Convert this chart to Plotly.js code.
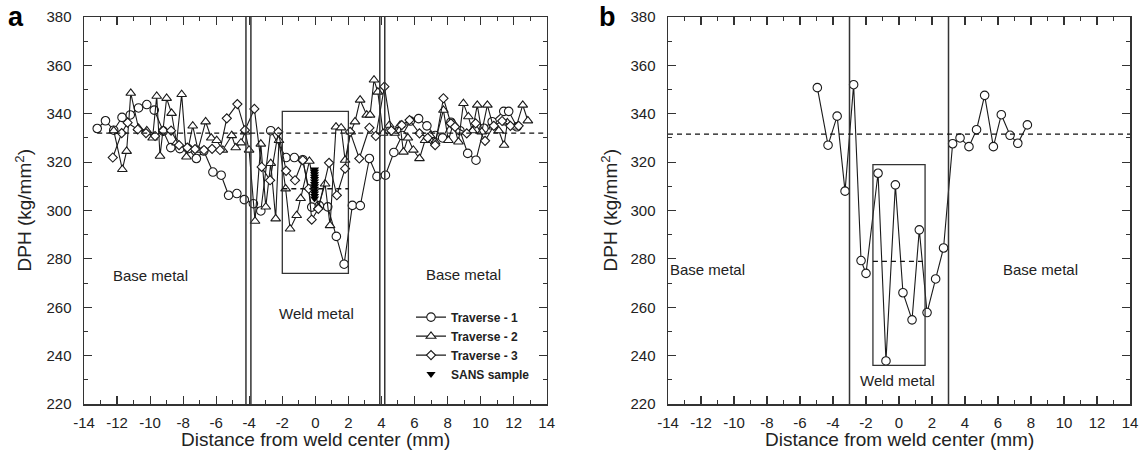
<!DOCTYPE html>
<html>
<head>
<meta charset="utf-8">
<script src="https://cdn.plot.ly/plotly-3.0.1.min.js"></script>
<style>html,body{margin:0;padding:0;background:#fff}#chart{width:1143px;height:461px}</style>
</head>
<body>
<div id="chart"></div>
<script>
// ---------- Panel a data ----------
const trav1X = [-13.2,-12.7,-12.2,-11.7,-11.2,-10.7,-10.2,-9.75,-9.2,-8.75,-8.2,-7.7,-7.2,-6.75,-6.2,-5.7,-5.25,-4.75,-4.3,-3.75,-3.3,-2.7,-1.77,-1.27,-0.76,-0.22,0.24,0.75,1.27,1.74,2.24,2.72,3.27,3.73,4.24,4.75,5.25,5.75,6.25,6.75,7.25,7.7,8.2,8.75,9.22,9.72,10.2,10.7,11.4,11.7,12.2];
const trav1Y = [333.9,337.1,333.2,338.5,339.5,342.4,343.8,341.5,332.8,326,325.6,325.6,321.5,324.6,315.9,314.6,306.3,307,304.5,302.8,299.8,333,321.9,321.9,321,301.4,302,301.5,289.3,277.8,302.1,302,321.5,314.1,314.6,324,331,337,338,335,331,330,336.5,333,323.6,320.8,334,336.7,341,341,334.6];

const trav2X = [-12.2,-11.68,-11.42,-11.17,-10.7,-10.2,-9.85,-9.6,-9.4,-9.0,-8.7,-8.4,-8.09,-7.8,-7.42,-7.1,-6.64,-6.3,-5.97,-5.6,-5.06,-4.82,-4.5,-4.25,-4.01,-3.65,-3.3,-3.0,-2.7,-2.4,-2.2,-1.8,-1.53,-1.13,-0.89,-0.36,0.18,0.59,0.89,1.25,1.56,1.8,2.14,2.4,2.71,3.11,3.31,3.55,3.78,4.1,4.48,4.8,5.13,5.33,5.6,5.93,6.3,6.64,6.95,7.25,7.75,8.05,8.35,8.66,8.96,9.26,9.5,9.8,10.07,10.41,10.77,11.1,11.42,11.62,12.15,12.55,12.86];
const trav2Y = [333,317,324.5,348.5,334,333,330,347.3,322.5,346.4,340.2,328,348,322.2,335,325,336.7,330,329,325,331,326,328,332.5,325,295.6,327.5,301.5,319.5,296.6,329,309,292.4,298,305,320.4,301.4,311,293.8,334.6,334.2,320.8,332.5,336.7,345.7,339.5,339.5,354,349,332,335.3,332,335.3,324.2,330,325,321.5,329,331,328.4,341.5,329,336,328.4,344.3,338.8,333,343.6,332.5,343.6,334.6,333,327,336.3,334.6,343.6,337.1];

const trav3X = [-12.26,-11.72,-11.36,-10.75,-10.25,-9.7,-9.2,-8.73,-8.25,-7.75,-7.28,-6.74,-6.25,-5.77,-5.36,-4.72,-4.26,-3.69,-3.25,-2.74,-2.24,-1.77,-1.23,-0.76,-0.4,-0.22,0.18,0.83,1.3,1.8,2.1,2.66,3.27,3.66,4.18,4.6,5.23,5.7,6.3,6.8,7.25,7.75,8.2,8.45,9.16,9.7,10.27,10.8,11.3,11.8,12.3];
const trav3Y = [321.9,332,336.3,333.5,332,330.8,333,333,327,326,325.4,325,325.5,325,338.1,344,333.2,342,318,312.5,332.5,316.4,312.5,320.8,309,296.2,300.7,319.7,306.3,317.3,332.5,321.5,334.2,330.8,351.2,333,335.3,337.4,331.9,330,327,346.4,336,334.6,331.9,336,328.8,335,337,335,335];

const sansX = [-0.05,-0.05,-0.05,-0.05,-0.05,-0.05,-0.05,-0.05,-0.05,-0.05,-0.05,-0.05,-0.05];
const sansY = [317,316,315,314,313,312,311,310,309,308,307,306,305];

// ---------- Panel b data ----------
const bX = [-4.95,-4.3,-3.75,-3.27,-2.75,-2.3,-2.0,-1.27,-0.79,-0.22,0.24,0.79,1.23,1.7,2.22,2.7,3.25,3.7,4.24,4.7,5.19,5.72,6.2,6.73,7.2,7.78];
const bY = [350.8,327,339,308,352,279.3,274,315.4,237.8,310.6,266,254.8,292,257.8,271.7,284.5,327.6,330,326.4,333.4,347.6,326.4,339.6,331.1,327.8,335.4];

// ---------- Reference lines / regions ----------
const boundA = [-4.2,-3.9,3.9,4.2];
const boxA = {x0:-2, x1:2, y0:274, y1:341};
const refA = 332, refBoxA = 309, refAStart = -13.2;
const boundB = [-3,3];
const boxB = {x0:-1.58, x1:1.58, y0:236, y1:319};
const refB = 331.6, refBoxB = 279;

// ---------- Ticks ----------
const xTickVals = [-14,-12,-10,-8,-6,-4,-2,0,2,4,6,8,10,12,14];
const xTickText = ['-14','-12','-10','-8','-6','-4','-2','0','2','4','6','8','10','12','14'];
const yTickVals = [220,240,260,280,300,320,340,360,380];

const FONT = 'Liberation Sans, Arial, sans-serif';
const INK = '#1a1a1a';

function series(x, y, name, symbol, size, xa, ya, show) {
  return {x, y, name, type:'scatter', mode:'lines+markers', xaxis:xa, yaxis:ya, showlegend:show,
    line:{color:INK, width:1.1},
    marker:{symbol, size, color:'white', line:{color:INK, width:1.1}}};
}

const data = [
  series(trav1X, trav1Y, '<b>Traverse - 1</b>', 'circle', 8.5, 'x', 'y', true),
  series(trav2X, trav2Y, '<b>Traverse - 2</b>', 'triangle-up', 8.5, 'x', 'y', true),
  series(trav3X, trav3Y, '<b>Traverse - 3</b>', 'diamond', 7, 'x', 'y', true),
  {x:sansX, y:sansY, name:'<b>SANS sample</b>', type:'scatter', mode:'markers', xaxis:'x', yaxis:'y',
    marker:{symbol:'triangle-down', size:8, color:'#000'}},
  series(bX, bY, 'b', 'circle', 8.5, 'x2', 'y2', false)
];

const axCommon = {
  showline:true, linecolor:'#333', linewidth:1.5, mirror:'ticks',
  ticks:'inside', ticklen:8, tickwidth:1.2, tickcolor:'#333',
  showgrid:false, zeroline:false,
  tickfont:{family:FONT, size:15, color:'#222'}
};

function xAxis(domain, anchor) {
  return Object.assign({}, axCommon, {domain, anchor, range:[-14,14], tickmode:'array',
    tickvals:xTickVals, ticktext:xTickText, ticklabelstandoff:4,
    minor:{ticks:'inside', ticklen:4, dtick:1, tick0:-14, tickcolor:'#333', tickwidth:1}});
}
function yAxis(anchor) {
  return Object.assign({}, axCommon, {domain:[0,1], anchor, range:[220,380], tickmode:'array',
    tickvals:yTickVals, ticklabelstandoff:8,
    minor:{ticks:'inside', ticklen:4, dtick:10, tick0:220, tickcolor:'#333', tickwidth:1}});
}

const shapes = [];
const solid = {color:'#333', width:1.5};
const dashed = {color:'#111', width:1.3, dash:'5px,4px'};
boundA.forEach(v => shapes.push({type:'line', xref:'x', yref:'y domain', x0:v, x1:v, y0:0, y1:1, line:solid}));
shapes.push({type:'rect', xref:'x', yref:'y', x0:boxA.x0, x1:boxA.x1, y0:boxA.y0, y1:boxA.y1, line:{color:'#333', width:1.3}});
shapes.push({type:'line', xref:'x', yref:'y', x0:refAStart, x1:14, y0:refA, y1:refA, line:dashed});
shapes.push({type:'line', xref:'x', yref:'y', x0:boxA.x0, x1:boxA.x1, y0:refBoxA, y1:refBoxA, line:dashed});
boundB.forEach(v => shapes.push({type:'line', xref:'x2', yref:'y2 domain', x0:v, x1:v, y0:0, y1:1, line:solid}));
shapes.push({type:'rect', xref:'x2', yref:'y2', x0:boxB.x0, x1:boxB.x1, y0:boxB.y0, y1:boxB.y1, line:{color:'#333', width:1.3}});
shapes.push({type:'line', xref:'x2', yref:'y2', x0:-14, x1:14, y0:refB, y1:refB, line:dashed});
shapes.push({type:'line', xref:'x2', yref:'y2', x0:boxB.x0, x1:boxB.x1, y0:refBoxB, y1:refBoxB, line:dashed});

function txt(text, x, y, xref, yref, size, extra) {
  return Object.assign({text, x, y, xref, yref, showarrow:false, xanchor:'center', yanchor:'middle',
    font:{family:FONT, size, color:'#222'}}, extra || {});
}
const annotations = [
  txt('Base metal', -9.96, 273.1, 'x', 'y', 15),
  txt('Base metal', 8.94, 273.5, 'x', 'y', 15),
  txt('Weld metal', 0.04, 257.6, 'x', 'y', 15),
  txt('Base metal', -11.6, 275.5, 'x2', 'y2', 15),
  txt('Base metal', 8.55, 275.5, 'x2', 'y2', 15),
  txt('Weld metal', -0.1, 229.6, 'x2', 'y2', 15),
  txt('DPH (kg/mm<sup>2</sup>)', 23/1143, 0.5, 'paper', 'paper', 19, {textangle:-90}),
  txt('DPH (kg/mm<sup>2</sup>)', 609/1143, 0.5, 'paper', 'paper', 19, {textangle:-90}),
  txt('Distance from weld center (mm)', 315.3/1143, -0.093, 'paper', 'paper', 19),
  txt('Distance from weld center (mm)', 899/1143, -0.093, 'paper', 'paper', 19),
  txt('<b>a</b>', 16/1143, 1.0, 'paper', 'paper', 27, {font:{family:FONT, size:27, color:'#000'}}),
  txt('<b>b</b>', 607/1143, 1.0, 'paper', 'paper', 27, {font:{family:FONT, size:27, color:'#000'}})
];

const layout = {
  width:1143, height:461,
  margin:{l:0, r:0, t:17, b:57},
  paper_bgcolor:'#fff', plot_bgcolor:'#fff',
  font:{family:FONT, color:'#222'},
  xaxis: xAxis([84/1143, 546.7/1143], 'y'),
  yaxis: yAxis('x'),
  xaxis2: xAxis([668/1143, 1130/1143], 'y2'),
  yaxis2: yAxis('x2'),
  showlegend:true,
  legend:{x:411/1143, y:0.262, xanchor:'left', yanchor:'top', bgcolor:'rgba(0,0,0,0)',
    font:{family:FONT, size:12, color:'#222'}, itemclick:false},
  shapes, annotations
};

Plotly.newPlot('chart', data, layout, {staticPlot:true, displayModeBar:false});
</script>
</body>
</html>
